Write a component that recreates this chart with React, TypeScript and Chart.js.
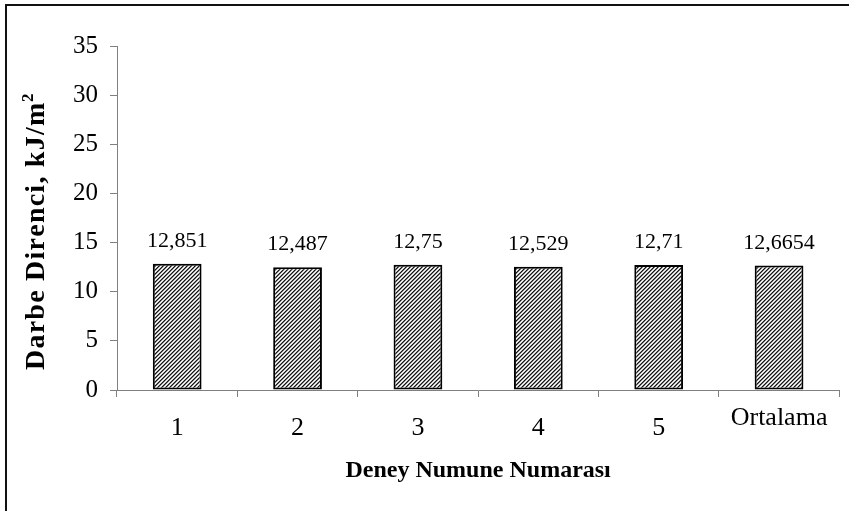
import React, { useEffect, useRef } from "react";
import { Chart, registerables } from "chart.js";

Chart.register(...registerables);

const categories: (string | string[])[] = ["1", "2", "3", "4", "5", ["Ortalama", ""]];
const values: number[] = [12.851, 12.487, 12.75, 12.529, 12.71, 12.6654];
const yTitleMain = "Darbe Direnci, kJ/m";
const yTitleSup = "2";
const xTitle = "Deney Numune Numarası";

const SERIF = "'Liberation Serif', 'Times New Roman', serif";

function makePattern(): CanvasPattern | string {
  const c = document.createElement("canvas");
  c.width = 4;
  c.height = 4;
  const g = c.getContext("2d");
  if (!g) return "#888";
  const img = g.createImageData(4, 4);
  for (let y = 0; y < 4; y++) {
    for (let x = 0; x < 4; x++) {
      const k = (x + y) % 4;
      let v = 255;
      if (k === 0) v = 20;
      else if (k === 1) v = 120;
      else if (k === 3) v = 200;
      const i = (y * 4 + x) * 4;
      img.data[i] = v;
      img.data[i + 1] = v;
      img.data[i + 2] = v;
      img.data[i + 3] = 255;
    }
  }
  g.putImageData(img, 0, 0);
  const p = g.createPattern(c, "repeat");
  return p || "#888";
}

const valueLabels = {
  id: "valueLabels",
  afterDatasetsDraw(chart: any) {
    const ctx = chart.ctx;
    const meta = chart.getDatasetMeta(0);
    ctx.save();
    ctx.font = `22px ${SERIF}`;
    ctx.fillStyle = "#000";
    ctx.textAlign = "center";
    ctx.textBaseline = "alphabetic";
    meta.data.forEach((bar: any, i: number) => {
      const txt = String(values[i]).replace(".", ",");
      ctx.fillText(txt, bar.x, bar.y - 17);
    });
    ctx.restore();
  },
};

const yTitleDraw = {
  id: "yTitleDraw",
  afterDraw(chart: any) {
    const ctx = chart.ctx;
    const startY = 370;
    const endY = 93;
    const baseX = 44;
    ctx.save();
    ctx.translate(baseX, startY);
    ctx.rotate(-Math.PI / 2);
    ctx.fillStyle = "#000";
    ctx.textBaseline = "alphabetic";
    ctx.textAlign = "left";
    const fMain = `bold 28px ${SERIF}`;
    const fSup = `bold 17px ${SERIF}`;
    ctx.font = fMain;
    const chars = Array.from(yTitleMain);
    const widths = chars.map((c) => ctx.measureText(c).width);
    ctx.font = fSup;
    const supW = ctx.measureText(yTitleSup).width;
    const natural = widths.reduce((a, b) => a + b, 0) + supW;
    const gap = Math.max(0, (startY - endY - natural) / chars.length);
    let x = 0;
    ctx.font = fMain;
    chars.forEach((c, i) => {
      ctx.fillText(c, x, 0);
      x += widths[i] + gap;
    });
    ctx.font = fSup;
    ctx.fillText(yTitleSup, x - gap * 0.5, -11);
    ctx.restore();
  },
};

export default function App() {
  const ref = useRef<HTMLCanvasElement>(null);
  useEffect(() => {
    document.body.style.margin = "0";
    const canvas = ref.current;
    if (!canvas) return;
    const chart = new Chart(canvas, {
      type: "bar",
      data: {
        labels: categories,
        datasets: [
          {
            data: values,
            backgroundColor: makePattern() as any,
            borderColor: "#000",
            borderWidth: 2,
            borderSkipped: false,
            categoryPercentage: 1,
            barPercentage: 0.405,
          },
        ],
      },
      options: {
        animation: false,
        responsive: false,
        devicePixelRatio: 1,
        layout: { padding: { top: 46, right: 7, left: 0, bottom: 0 } },
        plugins: { legend: { display: false }, tooltip: { enabled: false } },
        scales: {
          x: {
            offset: true,
            grid: {
              display: true,
              drawOnChartArea: false,
              drawTicks: true,
              tickLength: 7,
              color: "#808080",
              offset: true,
            },
            border: { color: "#808080", width: 1 },
            ticks: {
              font: { family: SERIF, size: 26, lineHeight: 0.75 },
              color: "#000",
              padding: 21,
              crossAlign: "center",
              maxRotation: 0,
              autoSkip: false,
            },
            title: {
              display: true,
              text: xTitle,
              font: { family: SERIF, size: 24, weight: "bold" },
              color: "#000",
              padding: { top: 0, bottom: 26 },
            },
            afterFit: (s: any) => {
              s.height = 121;
            },
          } as any,
          y: {
            min: 0,
            max: 35,
            grid: {
              display: true,
              drawOnChartArea: false,
              drawTicks: true,
              tickLength: 7,
              color: "#808080",
            },
            border: { color: "#808080", width: 1 },
            ticks: {
              stepSize: 5,
              font: { family: SERIF, size: 25 },
              color: "#000",
              padding: 12,
            },
            title: { display: false },
            afterFit: (s: any) => {
              s.width = 117;
            },
          } as any,
        },
      },
      plugins: [valueLabels, yTitleDraw],
    });
    return () => chart.destroy();
  }, []);

  return (
    <div style={{ position: "relative", width: 849, height: 511, background: "#fff", overflow: "hidden" }}>
      <canvas ref={ref} width={849} height={511} style={{ position: "absolute", left: 0, top: 0 }} />
      <div
        style={{
          position: "absolute",
          left: 5,
          top: 4,
          width: 860,
          height: 520,
          borderLeft: "2px solid #111",
          borderTop: "2px solid #111",
          pointerEvents: "none",
        }}
      />
    </div>
  );
}
